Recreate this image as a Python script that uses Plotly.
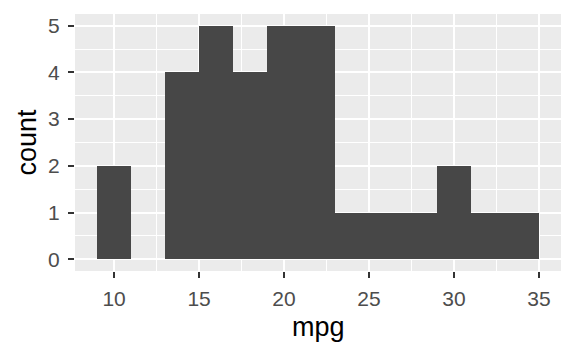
import plotly.graph_objects as go

bin_centers = [10, 12, 14, 16, 18, 20, 22, 24, 26, 28, 30, 32, 34]
counts = [2, 0, 4, 5, 4, 5, 5, 1, 1, 1, 2, 1, 1]
binwidth = 2
x_ticks = [10, 15, 20, 25, 30, 35]
y_ticks = [0, 1, 2, 3, 4, 5]

fig = go.Figure()
fig.add_trace(go.Bar(
    x=bin_centers, y=counts, width=[binwidth] * len(bin_centers),
    marker=dict(color="#474747", line=dict(width=0)),
    hoverinfo="skip",
))

font_family = "Liberation Sans, Arial, sans-serif"
fig.update_layout(
    width=576, height=355,
    margin=dict(l=75, r=15, t=14, b=84),
    paper_bgcolor="white", plot_bgcolor="#EBEBEB",
    showlegend=False, bargap=0,
    font=dict(family=font_family, color="#4D4D4D", size=21),
)
fig.update_xaxes(
    range=[7.7, 36.3], tickvals=x_ticks, ticktext=[str(v) for v in x_ticks],
    showgrid=True, gridcolor="white", gridwidth=2,
    minor=dict(dtick=2.5, tick0=0, showgrid=True, gridcolor="white", gridwidth=1, ticks=""),
    ticks="outside", ticklen=6, tickwidth=2, tickcolor="#333333",
    zeroline=False, showline=False, ticklabelstandoff=3,
    tickfont=dict(size=21, color="#4D4D4D"),
)
fig.update_yaxes(
    range=[-0.25, 5.25], tickvals=y_ticks, ticktext=[str(v) for v in y_ticks],
    showgrid=True, gridcolor="white", gridwidth=2,
    minor=dict(dtick=0.5, tick0=0, showgrid=True, gridcolor="white", gridwidth=1, ticks=""),
    ticks="outside", ticklen=6, tickwidth=2, tickcolor="#333333",
    zeroline=False, showline=False, ticklabelstandoff=4,
    tickfont=dict(size=21, color="#4D4D4D"),
)
fig.add_annotation(text="mpg", xref="paper", yref="paper", x=0.5, y=0,
                   yshift=-56, showarrow=False, yanchor="middle",
                   font=dict(size=27, color="black", family=font_family))
fig.add_annotation(text="count", xref="paper", yref="paper", x=0, y=0.5,
                   xshift=-49, showarrow=False, textangle=-90, xanchor="center",
                   font=dict(size=27, color="black", family=font_family))
fig.write_html("out.html")
